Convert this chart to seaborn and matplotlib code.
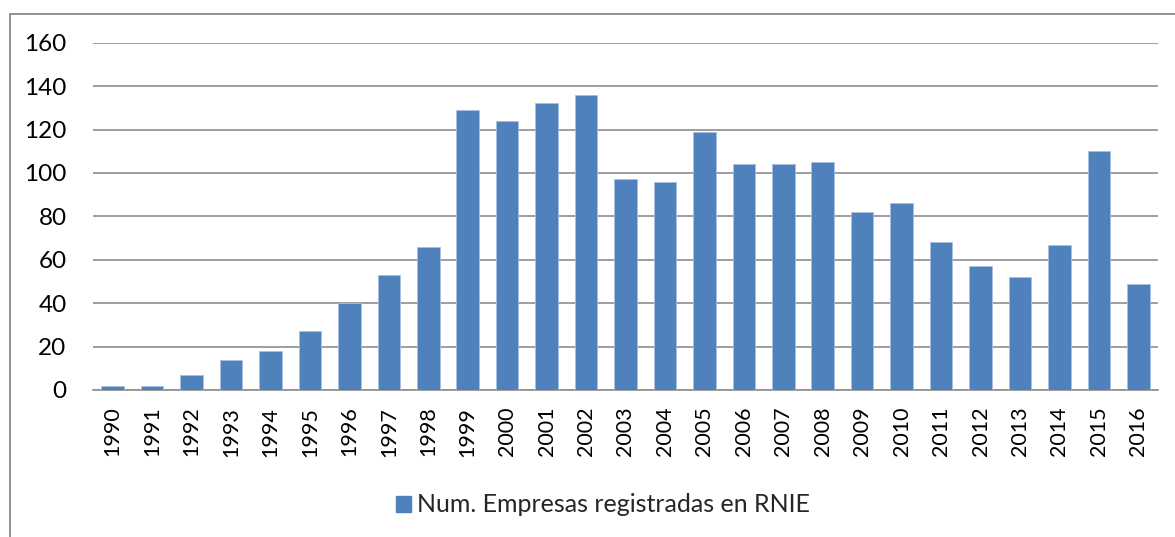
import matplotlib
matplotlib.use("Agg")
import matplotlib.pyplot as plt
import seaborn as sns
import pandas as pd
from matplotlib.lines import Line2D
from matplotlib.patches import Patch

years = [str(y) for y in range(1990, 2017)]
values = [2, 2, 7, 14, 18, 27, 40, 53, 66, 129, 124, 132, 136, 97, 96, 119,
          104, 104, 105, 82, 86, 68, 57, 52, 67, 110, 49]
series_name = "Num. Empresas registradas en RNIE"
yticks = [0, 20, 40, 60, 80, 100, 120, 140, 160]

sns.set_theme(style="white")
plt.rcParams['font.family'] = ['Lato', 'DejaVu Sans']

W, H = 1175, 537
fig = plt.figure(figsize=(W / 100, H / 100), dpi=100)
ax = fig.add_axes([93 / W, 1 - 390 / H, (1158 - 93) / W, (390 - 42.7) / H])

df = pd.DataFrame({"year": years, "value": values})
sns.barplot(data=df, x="year", y="value", color="#4F81BD", saturation=1,
            width=0.57, edgecolor="#A9C1E0", linewidth=0.6, ax=ax, zorder=3)

ax.set_ylim(0, 160)
ax.set_xlim(-0.5, len(years) - 0.5)
ax.set_yticks(yticks)
ax.set_yticklabels([str(t) for t in yticks])
ax.grid(axis="y", color="#8E8E8E", linewidth=1.2, zorder=0)
ax.grid(axis="x", visible=False)
for s in ["top", "right", "left"]:
    ax.spines[s].set_visible(False)
ax.spines["bottom"].set_color("#8E8E8E")
ax.spines["bottom"].set_linewidth(1.2)
ax.set_xlabel("")
ax.set_ylabel("")
ax.tick_params(axis="y", length=0, pad=19, labelsize=17.5, labelcolor="black")
ax.tick_params(axis="x", length=0, pad=12, labelsize=15.5, labelcolor="black",
               rotation=90)

# outer chart frame (left and top edges visible)
y_top = 1 - 13.5 / H
x_left = 9.5 / W
fig.add_artist(Line2D([x_left, x_left], [0, y_top], transform=fig.transFigure,
                      color="#8A8A8A", linewidth=1.3))
fig.add_artist(Line2D([x_left, 1], [y_top, y_top], transform=fig.transFigure,
                      color="#8A8A8A", linewidth=1.3))

handle = Patch(facecolor="#4F81BD", edgecolor="#4F81BD")
fig.legend([handle], [series_name], loc="center",
           bbox_to_anchor=(603 / W, 1 - 505 / H), frameon=False,
           fontsize=18, handlelength=0.6, handleheight=0.6,
           handletextpad=0.25)

fig.savefig("out.png", dpi=100)
